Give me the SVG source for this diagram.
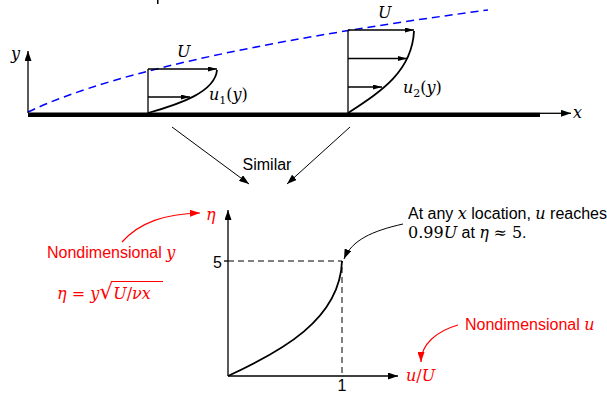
<svg xmlns="http://www.w3.org/2000/svg" width="607" height="394" viewBox="0 0 607 394">
<style>
.ln{stroke:#000;stroke-width:1.3;fill:none}
.crv{stroke:#000;stroke-width:1.8;fill:none}
.dash{stroke:#000;stroke-width:1;fill:none;stroke-dasharray:6,4}
.red{stroke:#ff0000;stroke-width:1.2;fill:none}
.sans{font-family:"Liberation Sans",Arial,sans-serif;font-size:16px;fill:#000}
.math{font-family:"DejaVu Serif","Liberation Serif",serif;font-style:italic;font-size:16px;fill:#000}
.up{font-style:normal}
.rt{fill:#ff0000}
</style>
<defs>
<marker id="ah" markerUnits="userSpaceOnUse" markerWidth="10" markerHeight="7" refX="10" refY="3.5" orient="auto"><path d="M0,0 L10,3.5 L0,7 z" fill="#000"/></marker>
<marker id="ahs" markerUnits="userSpaceOnUse" markerWidth="9" markerHeight="5" refX="9" refY="2.5" orient="auto"><path d="M0,0 L9,2.5 L0,5 z" fill="#000"/></marker>
<marker id="ahr" markerUnits="userSpaceOnUse" markerWidth="10" markerHeight="7" refX="10" refY="3.5" orient="auto"><path d="M0,0 L10,3.5 L0,7 z" fill="#ff0000"/></marker>
</defs>
<rect x="0" y="0" width="607" height="394" fill="#fff"/>
<rect x="157" y="0" width="1.5" height="4" fill="#000"/>

<g id="plate">
<rect x="28" y="112.5" width="512" height="4.5" fill="#000"/>
</g>
<g id="boundary-layer-edge">
<path d="M28,112 C120,68 300,35 488,10" stroke="#0000ff" stroke-width="1.5" fill="none" stroke-dasharray="8,5"/>
</g>
<g id="profile1">
<line class="ln" x1="148" y1="113" x2="148" y2="69"/>
<path class="crv" d="M148,113 C180,104 215,92 217,70"/>
<text class="math" x="177" y="57">U</text>
<text class="math" x="209" y="100">u<tspan class="up" font-size="11" dy="4">1</tspan><tspan class="up" dy="-4">(</tspan>y<tspan class="up">)</tspan></text>
</g>
<g id="profile2">
<line class="ln" x1="348" y1="113" x2="348" y2="30"/>
<path class="crv" d="M348,113 C380,92 412,72 414,31"/>
<text class="math" x="378" y="18">U</text>
<text class="math" x="403" y="93">u<tspan class="up" font-size="11" dy="4">2</tspan><tspan class="up" dy="-4">(</tspan>y<tspan class="up">)</tspan></text>
</g>
<g id="axes-top">
<text class="math" x="11" y="59" font-size="17">y</text>
<text class="math" x="573" y="118" font-size="17">x</text>
</g>
<g id="similar">
<text class="sans" x="267" y="170" text-anchor="middle">Similar</text>
</g>
<g id="plot">
<line class="ln" x1="228" y1="376" x2="228" y2="210" marker-end="url(#ah)"/>
<line class="ln" x1="228" y1="376" x2="398" y2="376" marker-end="url(#ah)"/>
<line class="ln" x1="224" y1="261" x2="228" y2="261"/>
<path class="dash" d="M228,261 L342,261 L342,376"/>
<path class="crv" d="M228,376 C280,352 340,320 342,261"/>
<text class="sans" x="213" y="268">5</text>
<text class="sans" x="342" y="391" text-anchor="middle">1</text>
<text class="math rt" x="206" y="220" font-size="17">η</text>
<text class="math rt" x="406" y="381" font-size="19">u<tspan class="up">/</tspan>U</text>
</g>
<g id="label-y">
<text class="sans rt" x="47" y="258">Nondimensional <tspan class="math rt" font-size="16">y</tspan></text>
<text class="math rt" x="57" y="299" font-size="18">η <tspan class="up">=</tspan> y<tspan class="up" font-size="22">√</tspan>U<tspan class="up">/</tspan>νx</text>
<line x1="113" y1="281.5" x2="163" y2="281.5" stroke="#ff0000" stroke-width="1.2"/>
</g>
<g id="label-u">
<text class="sans rt" x="465" y="330">Nondimensional <tspan class="math rt" font-size="16">u</tspan></text>
</g>
<g id="note">
<text class="sans" x="408" y="219">At any <tspan class="math">x</tspan> location, <tspan class="math">u</tspan> reaches</text>
<text class="sans" x="408" y="238"><tspan class="math up">0.99</tspan><tspan class="math">U</tspan> at <tspan class="math">η</tspan> <tspan class="math up">≈ 5</tspan>.</text>
</g>
<g id="connectors">
<line class="ln" x1="540" y1="113.3" x2="571" y2="113.3" marker-end="url(#ah)"/>
<line class="ln" x1="28" y1="113" x2="28" y2="51" marker-end="url(#ah)"/>
<line class="ln" x1="148" y1="69" x2="217" y2="69" marker-end="url(#ahs)"/>
<line class="ln" x1="148" y1="97" x2="190" y2="97" marker-end="url(#ahs)"/>
<line class="ln" x1="348" y1="30" x2="414" y2="30" marker-end="url(#ahs)"/>
<line class="ln" x1="348" y1="58.5" x2="407" y2="58.5" marker-end="url(#ahs)"/>
<line class="ln" x1="348" y1="87" x2="382" y2="87" marker-end="url(#ahs)"/>
<line x1="172" y1="127" x2="249" y2="184" stroke="#000" stroke-width="1" marker-end="url(#ah)"/>
<line x1="350" y1="127" x2="287" y2="184" stroke="#000" stroke-width="1" marker-end="url(#ah)"/>
<path d="M403,224 C372,231 352,240 344,259" stroke="#000" stroke-width="1" fill="none" marker-end="url(#ah)"/>
<path class="red" d="M122,242 C140,222 165,214 200,213" marker-end="url(#ahr)"/>
<path class="red" d="M458,325 C437,331 421,344 421,362" marker-end="url(#ahr)"/>
</g>
</svg>
